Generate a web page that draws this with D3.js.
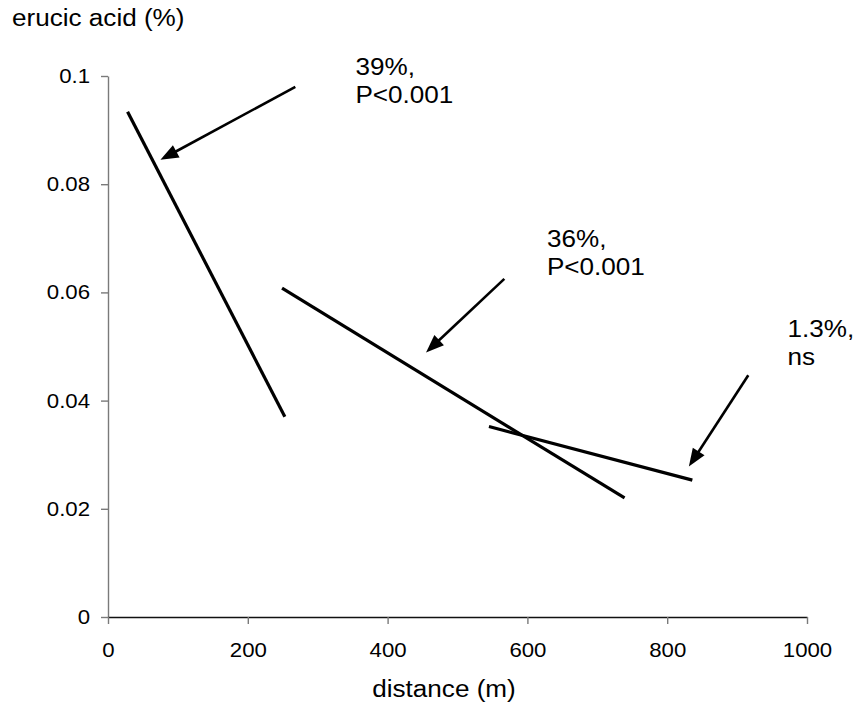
<!DOCTYPE html>
<html>
<head>
<meta charset="utf-8">
<script src="https://cdn.jsdelivr.net/npm/d3@7"></script>
<style>
  body { margin: 0; background: #fff; }
  text { font-family: "Liberation Sans", Arial, sans-serif; fill: #000; }
</style>
</head>
<body>
<div id="chart"></div>
<script>
// axis ticks
const xTicks = [0, 200, 400, 600, 800, 1000];
const yTicks = [0, 0.02, 0.04, 0.06, 0.08, 0.1];

// fitted regression segments (distance in m, erucic acid in %)
const fitStartX = [28, 249, 545];
const fitStartY = [0.0934, 0.0608, 0.0352];
const fitEndX = [253, 739, 836];
const fitEndY = [0.037, 0.022, 0.0253];

// annotations: text and arrows (in data units)
const noteLines = [["39%,", "P<0.001"], ["36%,", "P<0.001"], ["1.3%,", "ns"]];
const noteX = [354, 628, 972];
const noteY = [0.1002, 0.0684, 0.0517];
const arrowFromX = [268, 567, 916];
const arrowFromY = [0.098, 0.0625, 0.0447];
const arrowToX = [75, 455, 831];
const arrowToY = [0.0845, 0.0489, 0.0278];

const width = 856, height = 705;
const stretch = 1.11; // glyphs in the original are a bit wider than Arial

const svg = d3.select("#chart").append("svg")
  .attr("width", width)
  .attr("height", height);

const x = d3.scaleLinear().domain([0, 1000]).range([108, 807]);
const y = d3.scaleLinear().domain([0, 0.1]).range([617, 76]);

function widen(sel) {
  sel.each(function () {
    const len = this.getComputedTextLength();
    d3.select(this)
      .attr("textLength", len * stretch)
      .attr("lengthAdjust", "spacingAndGlyphs");
  });
}

// y axis
const yAxis = svg.append("g")
  .attr("transform", `translate(${x(0)},0)`)
  .call(d3.axisLeft(y).tickValues(yTicks).tickFormat(d => String(d))
    .tickSize(7).tickPadding(11).tickSizeOuter(0));
yAxis.select(".domain").attr("stroke", "#7a7a7a").attr("stroke-width", 1.4);
yAxis.selectAll(".tick line").attr("stroke", "#7a7a7a").attr("stroke-width", 1.4);
yAxis.selectAll("text").style("font-size", "20px").call(widen);

// x axis
const xAxis = svg.append("g")
  .attr("transform", `translate(0,${y(0)})`)
  .call(d3.axisBottom(x).tickValues(xTicks).tickFormat(d => String(d))
    .tickSize(7).tickPadding(19).tickSizeOuter(0));
xAxis.select(".domain").attr("stroke", "#111").attr("stroke-width", 1.4);
xAxis.selectAll(".tick line").attr("stroke", "#7a7a7a").attr("stroke-width", 1.4);
xAxis.selectAll("text").style("font-size", "20px").call(widen);

// axis titles
svg.append("text")
  .attr("x", 12).attr("y", 26)
  .style("font-size", "23.5px")
  .text("erucic acid (%)")
  .call(widen);

svg.append("text")
  .attr("x", 444).attr("y", 697)
  .attr("text-anchor", "middle")
  .style("font-size", "23.5px")
  .text("distance (m)")
  .call(widen);

// regression lines
svg.append("g")
  .selectAll("line")
  .data(fitStartX)
  .enter()
  .append("line")
  .attr("x1", (d, i) => x(fitStartX[i]))
  .attr("y1", (d, i) => y(fitStartY[i]))
  .attr("x2", (d, i) => x(fitEndX[i]))
  .attr("y2", (d, i) => y(fitEndY[i]))
  .attr("stroke", "#000")
  .attr("stroke-width", 3.2);

// arrows
const arrows = svg.append("g");
for (let i = 0; i < arrowFromX.length; i++) {
  const x1 = x(arrowFromX[i]), y1 = y(arrowFromY[i]);
  const x2 = x(arrowToX[i]), y2 = y(arrowToY[i]);
  const len = Math.hypot(x2 - x1, y2 - y1);
  const ux = (x2 - x1) / len, uy = (y2 - y1) / len;
  const headLen = 18, headHalf = 7;
  const bx = x2 - ux * headLen, by = y2 - uy * headLen;
  arrows.append("line")
    .attr("x1", x1).attr("y1", y1)
    .attr("x2", bx + ux * 2).attr("y2", by + uy * 2)
    .attr("stroke", "#000")
    .attr("stroke-width", 2.6);
  arrows.append("path")
    .attr("d", `M${x2},${y2}L${bx - uy * headHalf},${by + ux * headHalf}L${bx + uy * headHalf},${by - ux * headHalf}Z`)
    .attr("fill", "#000");
}

// annotation texts
const notes = svg.append("g");
noteLines.forEach((lines, i) => {
  lines.forEach((t, j) => {
    notes.append("text")
      .attr("x", x(noteX[i]))
      .attr("y", y(noteY[i]) + j * 28)
      .style("font-size", "23.5px")
      .text(t)
      .call(widen);
  });
});
</script>
</body>
</html>
